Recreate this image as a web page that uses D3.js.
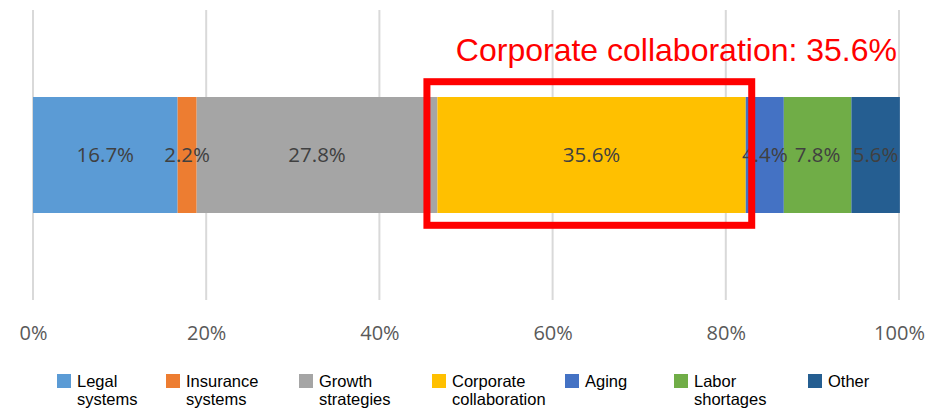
<!DOCTYPE html>
<html>
<head>
<meta charset="utf-8">
<script src="https://cdn.jsdelivr.net/npm/d3@7"></script>
<style>
  html, body { margin: 0; padding: 0; background: #fff; }
  svg { display: block; }
</style>
</head>
<body>
<svg id="chart" width="940" height="410"></svg>
<script>
const categories = ["Legal systems", "Insurance systems", "Growth strategies", "Corporate collaboration", "Aging", "Labor shortages", "Other"];
const legendLines = [["Legal", "systems"], ["Insurance", "systems"], ["Growth", "strategies"], ["Corporate", "collaboration"], ["Aging"], ["Labor", "shortages"], ["Other"]];
const values = [16.7, 2.2, 27.8, 35.6, 4.4, 7.8, 5.6];
const colors = ["#5B9BD5", "#ED7D31", "#A5A5A5", "#FFC000", "#4472C4", "#70AD47", "#255E91"];
const tickValues = [0, 20, 40, 60, 80, 100];
const highlightIndex = 3;
const highlightText = "Corporate collaboration: 35.6%";
const legendX = [57, 166, 299, 432, 565, 674, 808];

const svg = d3.select("#chart");
const plot = { left: 33, right: 899, top: 10, bottom: 300 };

const x = d3.scaleLinear().domain([0, 100]).range([plot.left, plot.right]);

// gridlines
svg.append("g").selectAll("line").data(tickValues).join("line")
  .attr("x1", d => x(d)).attr("x2", d => x(d))
  .attr("y1", plot.top).attr("y2", plot.bottom)
  .attr("stroke", "#D9D9D9").attr("stroke-width", 2);

// axis labels
const axis = d3.axisBottom(x).tickValues(tickValues).tickFormat(d => d + "%").tickSize(0).tickPadding(26);
const ag = svg.append("g").attr("transform", `translate(0,${plot.bottom})`).call(axis);
ag.select(".domain").remove();
ag.selectAll("text").attr("fill", "#595959").style("font-family", "'Open Sans', sans-serif").style("font-size", "20px");

// stacked bar
let cum = 0;
const segs = values.map((v, i) => { const s = { i, v, x0: cum, x1: cum + v }; cum += v; return s; });
const barY = 97, barH = 116;
svg.append("g").selectAll("rect").data(segs).join("rect")
  .attr("x", d => x(d.x0)).attr("width", d => x(d.x1) - x(d.x0))
  .attr("y", barY).attr("height", barH)
  .attr("fill", d => colors[d.i]);

svg.append("g").selectAll("text").data(segs).join("text")
  .attr("x", d => (x(d.x0) + x(d.x1)) / 2)
  .attr("y", barY + barH / 2)
  .attr("dy", "0.35em")
  .attr("text-anchor", "middle")
  .attr("fill", "#404040")
  .style("font-family", "'Open Sans', sans-serif")
  .style("font-size", "20.5px")
  .text(d => d.v.toFixed(1) + "%");

// highlight box
const h = segs[highlightIndex];
svg.append("rect")
  .attr("x", x(h.x0) - 10.5).attr("y", barY - 15.3)
  .attr("width", x(h.x1) - x(h.x0) + 16.5).attr("height", barH + 27.6)
  .attr("fill", "none").attr("stroke", "#FF0000").attr("stroke-width", 7);

svg.append("text")
  .attr("x", 897).attr("y", 61)
  .attr("text-anchor", "end")
  .attr("fill", "#FF0000")
  .style("font-family", "'Liberation Sans', Arial, sans-serif")
  .style("font-size", "32px")
  .text(highlightText);

// legend
const lg = svg.append("g").selectAll("g").data(categories).join("g")
  .attr("transform", (d, i) => `translate(${legendX[i]},374)`);
lg.append("rect").attr("width", 14).attr("height", 14).attr("fill", (d, i) => colors[i]);
lg.append("text")
  .attr("x", 20).attr("y", 12.5)
  .attr("fill", "#000")
  .style("font-family", "'Liberation Sans', Arial, sans-serif")
  .style("font-size", "16.5px")
  .selectAll("tspan").data((d, i) => legendLines[i]).join("tspan")
  .attr("x", 20).attr("dy", (d, j) => j === 0 ? 0 : 18.6)
  .text(d => d);
</script>
</body>
</html>
